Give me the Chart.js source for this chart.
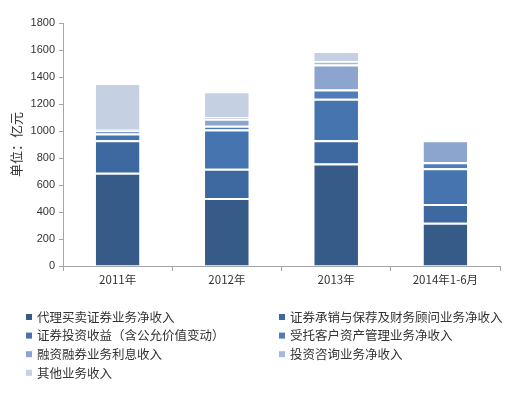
<!DOCTYPE html>
<html>
<head>
<meta charset="utf-8">
<script src="https://cdn.jsdelivr.net/npm/chart.js@4/dist/chart.umd.min.js"></script>
<style>
	html, body { margin: 0; padding: 0; background: #fff; }
	#wrap { width: 529px; height: 396px; }
</style>
</head>
<body>
<div id="wrap"><canvas id="chart"></canvas></div>
<script>
const categories = ['2011年', '2012年', '2013年', '2014年1-6月']

const seriesNames = [
	'代理买卖证券业务净收入',
	'证券承销与保荐及财务顾问业务净收入',
	'证券投资收益（含公允价值变动）',
	'受托客户资产管理业务净收入',
	'融资融券业务利息收入',
	'投资咨询业务净收入',
	'其他业务收入',
]

const brokerage = [690, 504, 759, 320]
const underwriting = [241, 217, 173, 139]
const investment = [50, 290, 306, 266]
const assetMgmt = [21, 27, 70, 44]
const marginInterest = [4, 53, 185, 163]
const advisory = [4, 11, 26, 0]
const other = [346, 193, 74, 0]

const seriesValues = [brokerage, underwriting, investment, assetMgmt, marginInterest, advisory, other]
const seriesColors = ['#365b88', '#3d68a0', '#4674ae', '#4e7dba', '#8ba5cf', '#a8badb', '#c5d0e3']

const yTicks = { min: 0, max: 1800, step: 200 }

const cjk = '"Noto Sans CJK SC", "Noto Sans", sans-serif'

// legend drawn in two fixed columns like the original
const gridLegend = {
	id: 'gridLegend',
	afterDraw(chart) {
		const ctx = chart.ctx
		ctx.save()
		ctx.font = '12.5px ' + cjk
		ctx.textBaseline = 'middle'
		chart.data.datasets.forEach((ds, i) => {
			const col = i % 2
			const row = Math.floor(i / 2)
			const x = col === 0 ? 26 : 279
			const y = 317 + row * 18.6
			ctx.fillStyle = ds.backgroundColor
			ctx.fillRect(x, y - 3, 6, 6)
			ctx.fillStyle = '#333'
			ctx.fillText(ds.label, x + 11, y)
		})
		ctx.restore()
	},
}

const ctx = document.getElementById('chart').getContext('2d')

new Chart(ctx, {
	type: 'bar',
	data: {
		labels: categories,
		datasets: seriesNames.map((name, i) => ({
			label: name,
			data: seriesValues[i],
			backgroundColor: seriesColors[i],
			borderColor: '#ffffff',
			borderWidth: { top: 2, bottom: 0, left: 0, right: 0 },
			borderSkipped: false,
			barPercentage: 0.4,
			categoryPercentage: 1,
		})),
	},
	options: {
		responsive: true,
		maintainAspectRatio: false,
		animation: false,
		layout: {
			padding: { top: 23, right: 29, bottom: 110, left: 0 },
		},
		plugins: {
			legend: { display: false },
			tooltip: { enabled: false },
		},
		scales: {
			x: {
				stacked: true,
				afterFit: (scale) => { scale.height = 20 },
				grid: {
					display: true,
					drawOnChartArea: false,
					tickLength: 5,
					color: '#a6a6a6',
					offset: true,
				},
				border: { color: '#a6a6a6' },
				ticks: {
					color: '#333',
					font: { family: cjk, size: 11.5 },
					padding: 2,
				},
			},
			y: {
				stacked: true,
				min: yTicks.min,
				max: yTicks.max,
				afterFit: (scale) => { scale.width = 63 },
				grid: {
					display: true,
					drawOnChartArea: false,
					tickLength: 4,
					color: '#a6a6a6',
				},
				border: { color: '#a6a6a6' },
				ticks: {
					stepSize: yTicks.step,
					color: '#333',
					font: { family: '"Liberation Sans", Arial, sans-serif', size: 11 },
					padding: 4,
					callback: (v) => String(v),
				},
				title: {
					display: true,
					text: '单位：亿元',
					color: '#333',
					font: { family: cjk, size: 13 },
					padding: { top: 8, bottom: 0 },
				},
			},
		},
	},
	plugins: [gridLegend],
})
</script>
</body>
</html>
